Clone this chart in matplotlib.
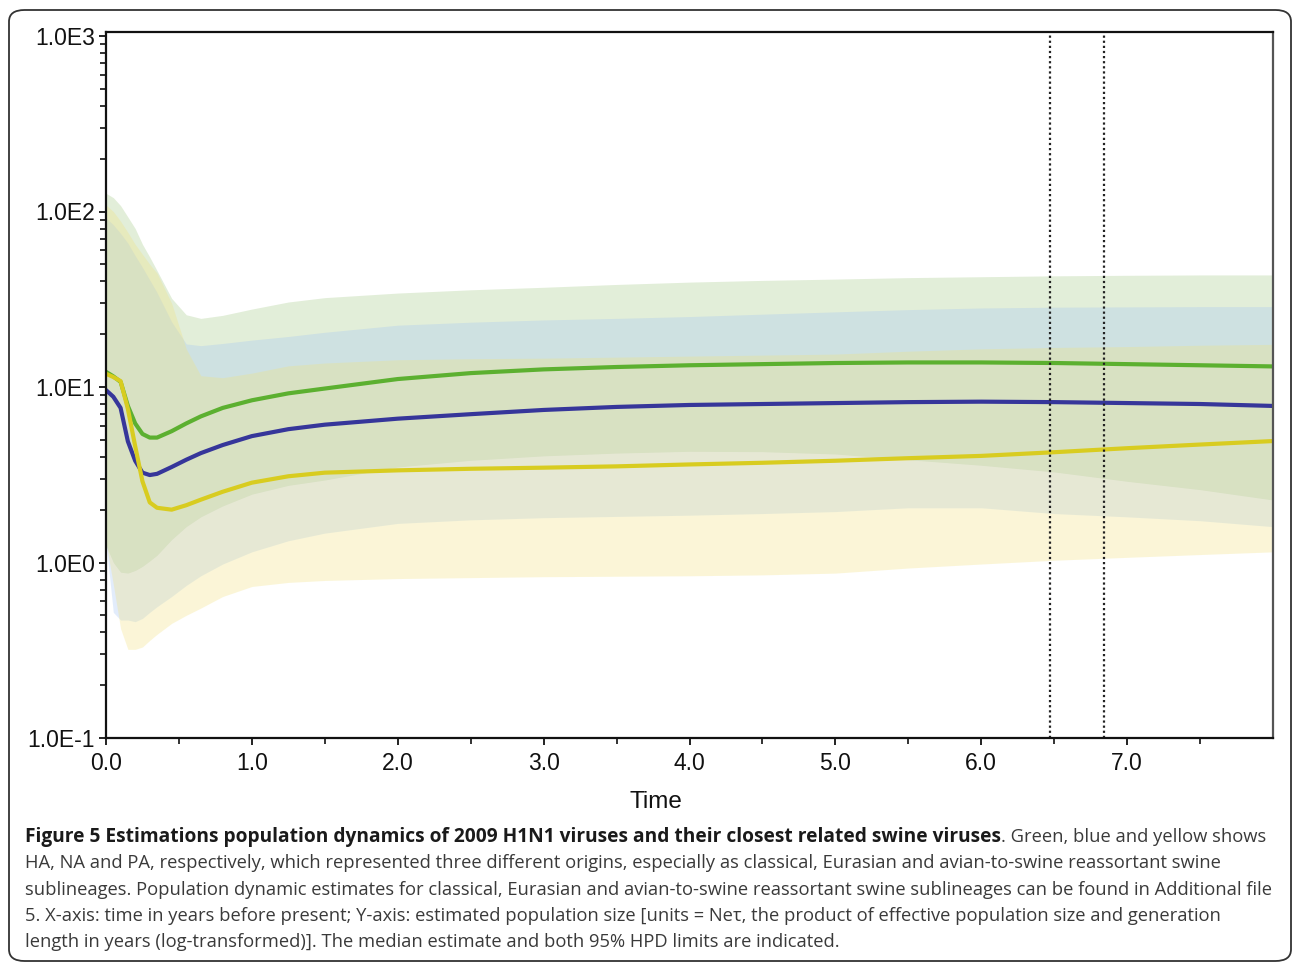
import matplotlib
matplotlib.use("Agg")
import matplotlib.pyplot as plt
from matplotlib.patches import FancyBboxPatch
from matplotlib.ticker import FixedLocator, LogLocator, NullFormatter
import numpy as np

# time in years before present
time = [0, 0.05, 0.1, 0.15, 0.2, 0.25, 0.3, 0.35, 0.45, 0.55, 0.65, 0.8, 1.0,
        1.25, 1.5, 2.0, 2.5, 3.0, 3.5, 4.0, 4.5, 5.0, 5.5, 6.0, 6.5, 7.0, 7.5, 8.0]

# HA (green)
ha_median = [12.2, 11.5, 10.7, 7.8, 6.2, 5.4, 5.15, 5.15, 5.6, 6.2, 6.8, 7.6, 8.4,
             9.2, 9.8, 11.1, 12.0, 12.6, 13.0, 13.3, 13.5, 13.7, 13.8, 13.8, 13.7, 13.5, 13.3, 13.1]
ha_upper = [127, 120, 108, 93, 80, 65, 55, 46, 32, 25.8, 24.6, 25.6, 27.8,
            30.5, 32.3, 34.3, 35.8, 37, 38.4, 39.6, 40.5, 41.2, 42, 42.5, 43, 43.3, 43.5, 43.5]
ha_lower = [1.25, 1.0, 0.88, 0.87, 0.9, 0.95, 1.02, 1.1, 1.35, 1.6, 1.82, 2.1, 2.45,
            2.75, 2.95, 3.5, 3.82, 4.05, 4.2, 4.3, 4.28, 4.15, 3.85, 3.58, 3.28, 2.9, 2.6, 2.27]

# NA (blue)
na_median = [9.6, 8.8, 7.6, 4.9, 3.8, 3.25, 3.15, 3.2, 3.5, 3.85, 4.2, 4.67, 5.25,
             5.75, 6.1, 6.6, 7.0, 7.4, 7.7, 7.9, 8.0, 8.1, 8.2, 8.25, 8.2, 8.1, 8.0, 7.8]
na_upper = [92, 84, 75, 66, 56, 48, 40.7, 34.5, 23.5, 17.6, 17.2, 17.7, 18.5,
            19.4, 20.5, 22.5, 23.4, 24.1, 24.6, 25.2, 26.0, 26.8, 27.6, 28.2, 28.5, 28.6, 28.7, 28.7]
na_lower = [1.3, 0.52, 0.47, 0.47, 0.46, 0.48, 0.52, 0.56, 0.64, 0.74, 0.84, 0.98, 1.15,
            1.33, 1.47, 1.67, 1.75, 1.8, 1.83, 1.86, 1.9, 1.95, 2.05, 2.05, 1.9, 1.82, 1.73, 1.6]

# PA (yellow)
pa_median = [11.9, 11.4, 10.8, 7.5, 4.6, 2.9, 2.2, 2.05, 2.0, 2.12, 2.28, 2.53, 2.85,
             3.1, 3.25, 3.35, 3.42, 3.47, 3.53, 3.62, 3.7, 3.8, 3.93, 4.05, 4.25, 4.48, 4.7, 4.92]
pa_upper = [109, 100, 88, 76, 65, 57, 50, 44.5, 30, 16.5, 11.6, 11.3, 12.0,
            13.2, 13.7, 14.3, 14.5, 14.6, 14.8, 15.0, 15.2, 15.4, 16.0, 16.5, 16.8, 17.0, 17.3, 17.5]
pa_lower = [1.3, 0.75, 0.42, 0.32, 0.32, 0.33, 0.36, 0.39, 0.45, 0.5, 0.55, 0.64, 0.73,
            0.77, 0.79, 0.81, 0.82, 0.83, 0.835, 0.84, 0.85, 0.87, 0.93, 0.98, 1.03, 1.07, 1.11, 1.15]

marker_times = [6.47, 6.84]
x_ticks = [0, 1, 2, 3, 4, 5, 6, 7]
y_ticks = [0.1, 1, 10, 100, 1000]
y_labels = ["1.0E-1", "1.0E0", "1.0E1", "1.0E2", "1.0E3"]

caption_bold = ("Figure 5 Estimations population dynamics of 2009 H1N1 viruses "
                "and their closest related swine viruses")
caption_lines = [
    ". Green, blue and yellow shows",
    "HA, NA and PA, respectively, which represented three different origins, especially as classical, Eurasian and avian-to-swine reassortant swine",
    "sublineages. Population dynamic estimates for classical, Eurasian and avian-to-swine reassortant swine sublineages can be found in Additional file",
    "5. X-axis: time in years before present; Y-axis: estimated population size [units = Ne\u03c4, the product of effective population size and generation",
    "length in years (log-transformed)]. The median estimate and both 95% HPD limits are indicated.",
]

W, H = 1295, 964
fig = plt.figure(figsize=(W / 100, H / 100), dpi=100)
ax = fig.add_axes([106 / W, 1 - 738 / H, (1273 - 106) / W, (738 - 32) / H])

# 95% HPD bands, blended
ax.fill_between(time, ha_lower, ha_upper, color="#a0c882", alpha=0.3, lw=0)
ax.fill_between(time, na_lower, na_upper, color="#a0c3f5", alpha=0.3, lw=0)
ax.fill_between(time, pa_lower, pa_upper, color="#f2e17d", alpha=0.3, lw=0)

ax.plot(time, ha_median, color="#5cb030", lw=3)
ax.plot(time, na_median, color="#36369a", lw=3)
ax.plot(time, pa_median, color="#d8cc20", lw=3)

for t in marker_times:
    ax.axvline(t, color="#222222", ls=(0, (1, 1.3)), lw=1.6)

ax.set_yscale("log")
ax.set_xlim(0, 8.0)
ax.set_ylim(0.1, 10 ** (3 + 4 / 175.5))
ax.yaxis.set_major_locator(FixedLocator(y_ticks))
ax.set_yticklabels(y_labels)
ax.yaxis.set_minor_locator(LogLocator(base=10, subs=np.arange(2, 10)))
ax.yaxis.set_minor_formatter(NullFormatter())
ax.set_xticks(x_ticks)
ax.set_xticklabels([f"{v:.1f}" for v in x_ticks])
ax.set_xticks(np.arange(0.5, 8.0, 1.0), minor=True)

lab_font = ["Liberation Sans", "DejaVu Sans"]
for lab in ax.get_xticklabels() + ax.get_yticklabels():
    lab.set_family(lab_font)
    lab.set_fontsize(16.5)
    lab.set_color("#111111")
ax.tick_params(which="major", direction="out", length=5, width=1.3, color="#111111", pad=3)
ax.tick_params(which="minor", direction="out", length=4, width=1.2, color="#111111")
ax.tick_params(axis="x", pad=5)
for s in ax.spines.values():
    s.set_linewidth(1.6)
    s.set_color("#111111")
ax.spines["right"].set_color("#555555")

ax.set_xlabel("Time", family=["Liberation Sans Narrow", "Liberation Sans"], fontsize=17.5,
              color="#111111")
ax.xaxis.set_label_coords((656 - 106) / (1273 - 106), -(791 - 738) / (738 - 32))

# outer rounded frame
frame = FancyBboxPatch((9 / W, 3 / H), (1291 - 9) / W, (954 - 3) / H,
                       boxstyle="round,pad=0,rounding_size=0.012",
                       transform=fig.transFigure, fill=False, ec="#333333", lw=1.3)
fig.patches.append(frame)

cap_font = ["Open Sans", "DejaVu Sans"]
x0 = 25 / W
line_y = [837, 863, 890, 916, 942]
bold = fig.text(x0, 1 - line_y[0] / H, caption_bold, family=cap_font, fontsize=13.8,
                fontweight="bold", color="#1a1a1a", va="center")
fig.canvas.draw()
bb = bold.get_window_extent(fig.canvas.get_renderer())
fig.text(bb.x1 / W, 1 - line_y[0] / H, caption_lines[0], family=cap_font,
         fontsize=13.25, color="#3a3a3a", va="center")
for y, line in zip(line_y[1:], caption_lines[1:]):
    fig.text(x0, 1 - y / H, line, family=cap_font, fontsize=13.25,
             color="#3a3a3a", va="center")

fig.savefig("out.png", dpi=100, facecolor="white")
